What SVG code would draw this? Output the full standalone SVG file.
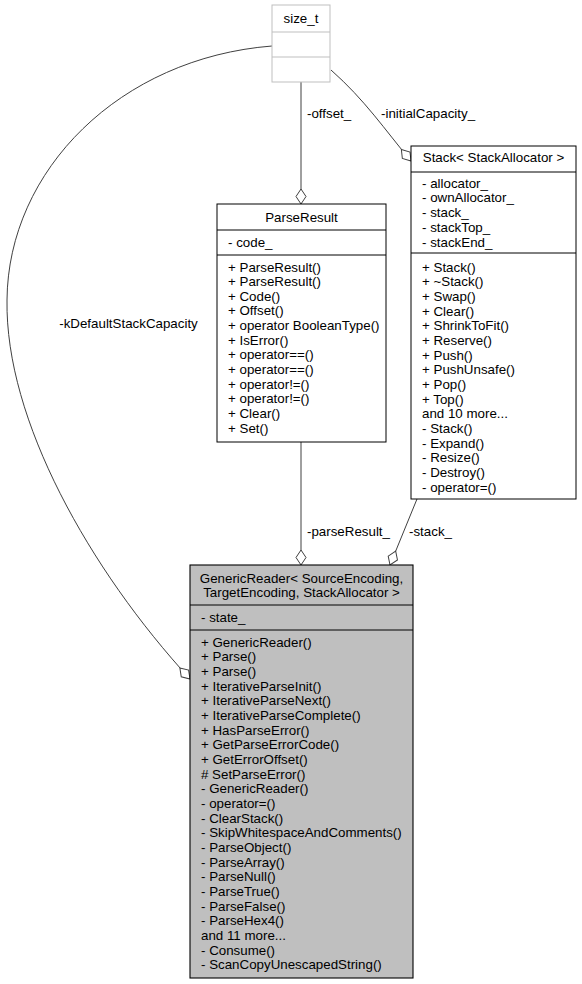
<svg xmlns="http://www.w3.org/2000/svg" width="582" height="984" viewBox="0 0 582 984">
<style>
text{font-family:"Liberation Sans",Arial,Helvetica,sans-serif;font-size:13.33px;fill:#000}
.mid{text-anchor:middle}
.box{fill:#fff;stroke:#000;stroke-width:1}
.ext{fill:#fff;stroke:#bfbfbf;stroke-width:1}
.main{fill:#bfbfbf;stroke:#000;stroke-width:1.1}
.div{stroke:#000;stroke-width:1}
.divx{stroke:#bfbfbf;stroke-width:1}
.edge{fill:none;stroke:#404040;stroke-width:1}
</style>
<defs>
<marker id="dia" markerUnits="userSpaceOnUse" viewBox="-1 -6 17 12" refX="15" refY="0" markerWidth="17" markerHeight="12" orient="auto">
<path d="M0,0 L7.5,-5 L15,0 L7.5,5 Z" fill="#fff" stroke="#404040" stroke-width="1"/>
</marker>
</defs>
<g id="connectors">
<path class="edge" d="M272,46 C120,58 8,170 7,300 C5,420 90,570 190,679" marker-end="url(#dia)"/>
<text class="mid" x="128.5" y="327.5">-kDefaultStackCapacity</text>
<path class="edge" d="M301,82 L301,204" marker-end="url(#dia)"/>
<text x="307" y="117.5">-offset_</text>
<path class="edge" d="M331,70 C365,100 385,130 411,161" marker-end="url(#dia)"/>
<text x="381" y="117.5">-initialCapacity_</text>
<path class="edge" d="M301,442 L301,565" marker-end="url(#dia)"/>
<text x="307" y="536">-parseResult_</text>
<path class="edge" d="M417,499 L390,565" marker-end="url(#dia)"/>
<text x="409" y="536">-stack_</text>
</g>
<g id="size_t">
<rect class="ext" x="272" y="5" width="58" height="77"/>
<line class="divx" x1="272" y1="32" x2="330" y2="32"/>
<line class="divx" x1="272" y1="57" x2="330" y2="57"/>
<text class="mid" x="301" y="23">size_t</text>
</g>
<g id="ParseResult">
<rect class="box" x="217" y="204" width="169" height="238"/>
<line class="div" x1="217" y1="230" x2="386" y2="230"/>
<line class="div" x1="217" y1="255" x2="386" y2="255"/>
<text class="mid" x="301.5" y="221.5">ParseResult</text>
<text x="228" y="246.5">- code_</text>
<text x="228" y="271.5"><tspan x="228">+ ParseResult()</tspan><tspan x="228" dy="14.64">+ ParseResult()</tspan><tspan x="228" dy="14.64">+ Code()</tspan><tspan x="228" dy="14.64">+ Offset()</tspan><tspan x="228" dy="14.64">+ operator BooleanType()</tspan><tspan x="228" dy="14.64">+ IsError()</tspan><tspan x="228" dy="14.64">+ operator==()</tspan><tspan x="228" dy="14.64">+ operator==()</tspan><tspan x="228" dy="14.64">+ operator!=()</tspan><tspan x="228" dy="14.64">+ operator!=()</tspan><tspan x="228" dy="14.64">+ Clear()</tspan><tspan x="228" dy="14.64">+ Set()</tspan></text>
</g>
<g id="Stack">
<rect class="box" x="411" y="146" width="165" height="353"/>
<line class="div" x1="411" y1="172" x2="576" y2="172"/>
<line class="div" x1="411" y1="253" x2="576" y2="253"/>
<text class="mid" x="493.5" y="161.5">Stack&lt; StackAllocator &gt;</text>
<text x="422" y="187.5"><tspan x="422">- allocator_</tspan><tspan x="422" dy="14.75">- ownAllocator_</tspan><tspan x="422" dy="14.75">- stack_</tspan><tspan x="422" dy="14.75">- stackTop_</tspan><tspan x="422" dy="14.75">- stackEnd_</tspan></text>
<text x="422" y="271.5"><tspan x="422">+ Stack()</tspan><tspan x="422" dy="14.67">+ ~Stack()</tspan><tspan x="422" dy="14.67">+ Swap()</tspan><tspan x="422" dy="14.67">+ Clear()</tspan><tspan x="422" dy="14.67">+ ShrinkToFit()</tspan><tspan x="422" dy="14.67">+ Reserve()</tspan><tspan x="422" dy="14.67">+ Push()</tspan><tspan x="422" dy="14.67">+ PushUnsafe()</tspan><tspan x="422" dy="14.67">+ Pop()</tspan><tspan x="422" dy="14.67">+ Top()</tspan><tspan x="422" dy="14.67">and 10 more...</tspan><tspan x="422" dy="14.67">- Stack()</tspan><tspan x="422" dy="14.67">- Expand()</tspan><tspan x="422" dy="14.67">- Resize()</tspan><tspan x="422" dy="14.67">- Destroy()</tspan><tspan x="422" dy="14.67">- operator=()</tspan></text>
</g>
<g id="GenericReader">
<rect class="main" x="190" y="565" width="223" height="413"/>
<line class="div" x1="190" y1="605" x2="413" y2="605"/>
<line class="div" x1="190" y1="630" x2="413" y2="630"/>
<text class="mid" x="301.5" y="583"><tspan x="301.5">GenericReader&lt; SourceEncoding,</tspan><tspan x="301.5" dy="14">TargetEncoding, StackAllocator &gt;</tspan></text>
<text x="201" y="621.5">- state_</text>
<text x="201" y="646.5"><tspan x="201">+ GenericReader()</tspan><tspan x="201" dy="14.68">+ Parse()</tspan><tspan x="201" dy="14.68">+ Parse()</tspan><tspan x="201" dy="14.68">+ IterativeParseInit()</tspan><tspan x="201" dy="14.68">+ IterativeParseNext()</tspan><tspan x="201" dy="14.68">+ IterativeParseComplete()</tspan><tspan x="201" dy="14.68">+ HasParseError()</tspan><tspan x="201" dy="14.68">+ GetParseErrorCode()</tspan><tspan x="201" dy="14.68">+ GetErrorOffset()</tspan><tspan x="201" dy="14.68"># SetParseError()</tspan><tspan x="201" dy="14.68">- GenericReader()</tspan><tspan x="201" dy="14.68">- operator=()</tspan><tspan x="201" dy="14.68">- ClearStack()</tspan><tspan x="201" dy="14.68">- SkipWhitespaceAndComments()</tspan><tspan x="201" dy="14.68">- ParseObject()</tspan><tspan x="201" dy="14.68">- ParseArray()</tspan><tspan x="201" dy="14.68">- ParseNull()</tspan><tspan x="201" dy="14.68">- ParseTrue()</tspan><tspan x="201" dy="14.68">- ParseFalse()</tspan><tspan x="201" dy="14.68">- ParseHex4()</tspan><tspan x="201" dy="14.68">and 11 more...</tspan><tspan x="201" dy="14.68">- Consume()</tspan><tspan x="201" dy="14.68">- ScanCopyUnescapedString()</tspan></text>
</g>
</svg>
